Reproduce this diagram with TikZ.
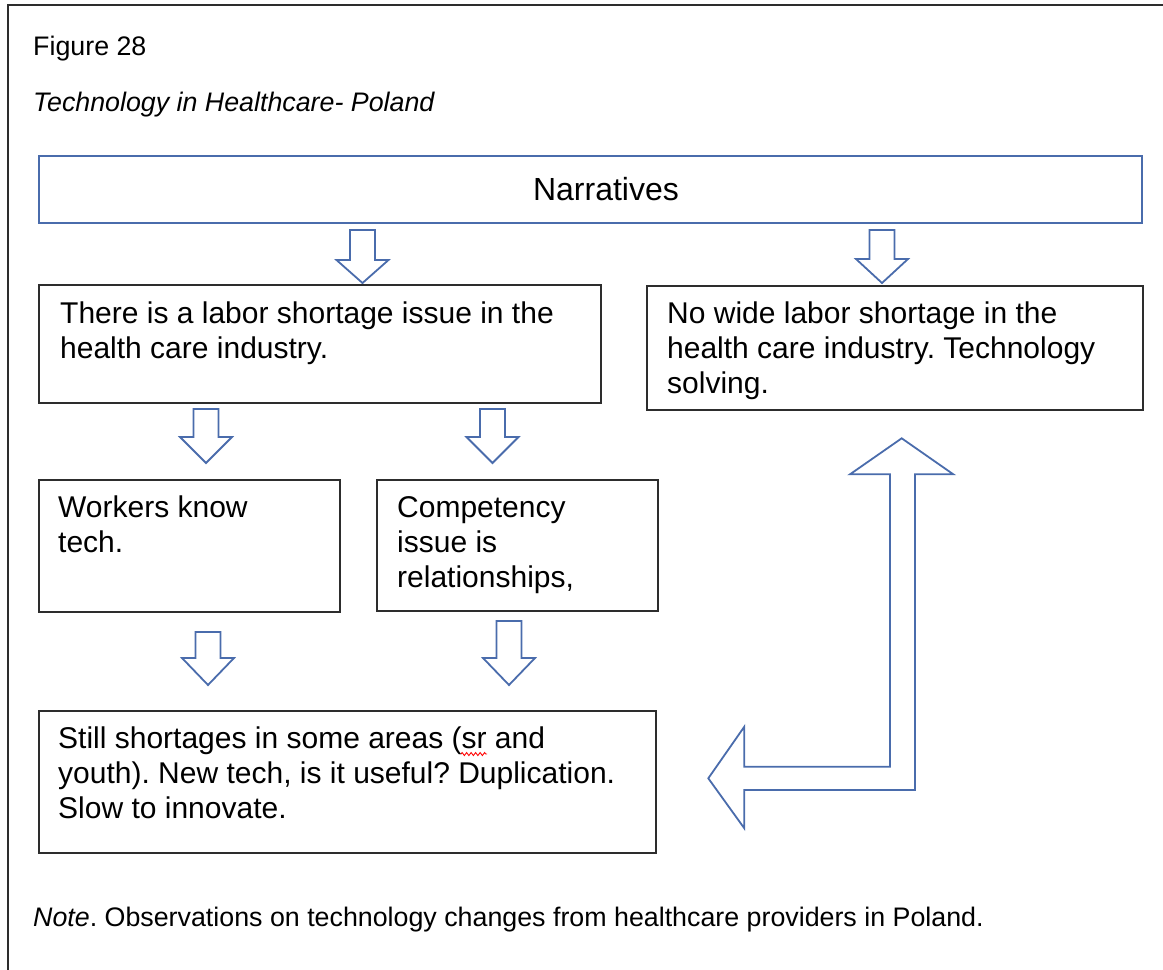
\documentclass[tikz,border=0pt]{standalone}
\usepackage{fontspec}
\setmainfont{Liberation Sans}
\usetikzlibrary{decorations.pathmorphing}
\definecolor{arrowblue}{RGB}{74,108,172}
\definecolor{boxline}{RGB}{45,45,45}

% down-pointing block arrow: #1 centre x, #2 top, #3 end of shaft, #4 tip
\newcommand\DownBlock[4]{%
  \draw[blockarrow] (#1-12.5,#2) -- (#1+12.5,#2) -- (#1+12.5,#3) -- (#1+26,#3)
    -- (#1,#4) -- (#1-26,#3) -- (#1-12.5,#3) -- cycle;}

\frenchspacing

\begin{document}
\begin{tikzpicture}[x=1pt,y=-1pt,
  panel/.style={draw=boxline, line width=2pt, fill=white, inner sep=0pt, anchor=north west},
  bluepanel/.style={panel, draw=arrowblue},
  boxtext/.style={inner sep=0pt, anchor=north west, align=left, font=\fontsize{30}{35}\selectfont},
  captext/.style={inner sep=0pt, anchor=base west, font=\fontsize{26.8}{32}\selectfont},
  blockarrow/.style={draw=arrowblue, line width=1.8pt, fill=white, line join=miter},
]
\useasboundingbox (0,0) rectangle (1163,970);

% page frame
\draw[boxline, line width=2pt] (8,970) -- (8,5) -- (1163,5);

% captions
\node[captext] (fig) at (33,55.5) {Figure 28};
\node[captext] (ttl) at (33,111) {\itshape Technology in Healthcare- Poland};
\node[captext] (note) at (33,926.5) {\textit{Note}. Observations on technology changes from healthcare providers in Poland.};

% boxes
\node[bluepanel, minimum width=1103pt, minimum height=67pt] (nar) at (38,155) {};
\node[panel, minimum width=562pt, minimum height=118pt] (lab) at (38,284) {};
\node[panel, minimum width=496pt, minimum height=124pt] (nolab) at (646,285) {};
\node[panel, minimum width=301pt, minimum height=132pt] (wk) at (38,479) {};
\node[panel, minimum width=281pt, minimum height=131pt] (comp) at (376,479) {};
\node[panel, minimum width=617pt, minimum height=142pt] (still) at (38,710) {};

% box texts
\node[inner sep=0pt, font=\fontsize{32}{38}\selectfont] (nartxt) at (606,189) {Narratives};
\node[boxtext] (labtxt) at (60,302) {There is a labor shortage issue in the\\health care industry.};
\node[boxtext] (nolabtxt) at (667,302) {No wide labor shortage in the\\health care industry. Technology\\solving.};
\node[boxtext] (wktxt) at (58,496) {Workers know\\tech.};
\node[boxtext] (comptxt) at (397,496) {Competency\\issue is\\relationships,};
\node[boxtext] (stilltxt) at (58,727) {Still shortages in some areas (sr and\\youth). New tech, is it useful? Duplication.\\Slow to innovate.};

% spelling mark under "sr"
\draw[red, line width=0.9pt, decorate, decoration={zigzag, amplitude=1.5pt, segment length=4.5pt}]
  (461,754) -- (487,754);

% block arrows between boxes
\DownBlock{362.5}{230}{260}{283}
\DownBlock{882}{230}{259}{283}
\DownBlock{206}{409}{437}{463}
\DownBlock{492.5}{409}{437}{463}
\DownBlock{208}{632}{658}{685}
\DownBlock{509}{621}{658}{685}

% bent return arrow
\draw[blockarrow] (901.7,438.3) -- (953.3,474.3) -- (915,474.3) -- (915,790)
  -- (744.3,790) -- (744.3,828.3) -- (708.3,778.3) -- (744.3,726.7)
  -- (744.3,766.7) -- (890,766.7) -- (890,474.3) -- (850,474.3) -- cycle;

\end{tikzpicture}
\end{document}
